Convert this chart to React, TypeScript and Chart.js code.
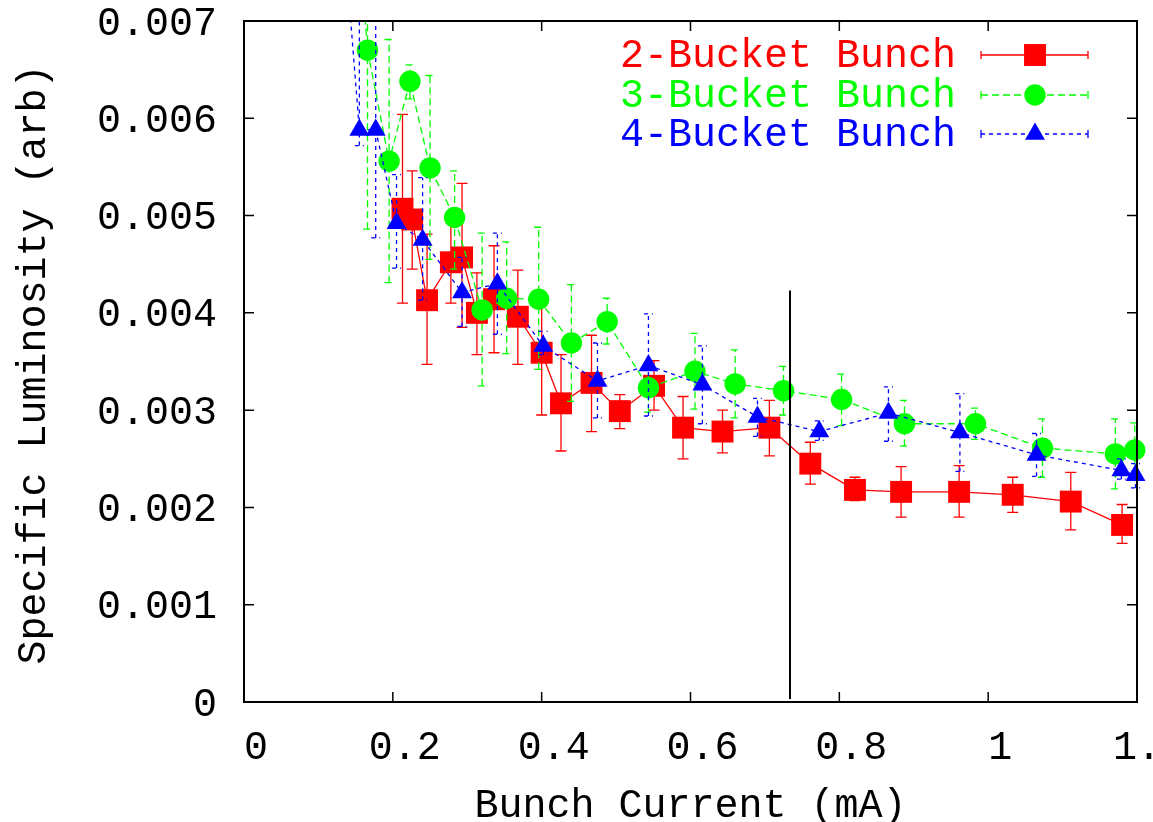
import React, { useEffect, useRef } from "react";
import { Chart, registerables } from "chart.js";

Chart.register(...registerables);

// ---------- data ----------
const xTickValues = [0, 0.2, 0.4, 0.6, 0.8, 1.0, 1.2];
const yTickValues = [0, 0.001, 0.002, 0.003, 0.004, 0.005, 0.006, 0.007];

const seriesNames = ["2-Bucket Bunch", "3-Bucket Bunch", "4-Bucket Bunch"];

const bucket2X = [0.213, 0.226, 0.246, 0.278, 0.293, 0.313, 0.336, 0.368, 0.400, 0.426, 0.467, 0.505, 0.551, 0.590, 0.643, 0.706, 0.761, 0.821, 0.883, 0.961, 1.033, 1.111, 1.180];
const bucket2Y = [0.00507, 0.00496, 0.00413, 0.00452, 0.00457, 0.00400, 0.00414, 0.00396, 0.00359, 0.00307, 0.00328, 0.00299, 0.00325, 0.00282, 0.00278, 0.00282, 0.00245, 0.00218, 0.00216, 0.00216, 0.00213, 0.00206, 0.00182];
const bucket2Lo = [0.00410, 0.00445, 0.00347, 0.00410, 0.00385, 0.00357, 0.00359, 0.00347, 0.00295, 0.00258, 0.00278, 0.00281, 0.00300, 0.00250, 0.00256, 0.00253, 0.00224, 0.00207, 0.00190, 0.00190, 0.00195, 0.00177, 0.00163];
const bucket2Hi = [0.00604, 0.00546, 0.00481, 0.00493, 0.00533, 0.00441, 0.00469, 0.00444, 0.00410, 0.00357, 0.00377, 0.00316, 0.00351, 0.00314, 0.00300, 0.00310, 0.00267, 0.00231, 0.00242, 0.00243, 0.00231, 0.00236, 0.00203];

const bucket3X = [0.148, 0.166, 0.195, 0.223, 0.250, 0.283, 0.320, 0.353, 0.396, 0.440, 0.488, 0.5435, 0.606, 0.660, 0.725, 0.803, 0.8875, 0.983, 1.073, 1.171, 1.197];
const bucket3Y = [0.0085, 0.00670, 0.00556, 0.00638, 0.00549, 0.00498, 0.00403, 0.00415, 0.00414, 0.00369, 0.00391, 0.00323, 0.00340, 0.00327, 0.00320, 0.00311, 0.00286, 0.00286, 0.00261, 0.00255, 0.00259];
const bucket3Lo = [0.0085, 0.00486, 0.00431, 0.00620, 0.00455, 0.00445, 0.00325, 0.00358, 0.00342, 0.00309, 0.00368, 0.00298, 0.00301, 0.00292, 0.00295, 0.00284, 0.00263, 0.00270, 0.00231, 0.00219, 0.00232];
const bucket3Hi = [0.0085, 0.00850, 0.00681, 0.00655, 0.00644, 0.00546, 0.00482, 0.00473, 0.00488, 0.00429, 0.00415, 0.00348, 0.00379, 0.00362, 0.00345, 0.00337, 0.00310, 0.00302, 0.00291, 0.00291, 0.00287];

const bucket4X = [0.128, 0.155, 0.177, 0.205, 0.240, 0.293, 0.3405, 0.402, 0.475, 0.5435, 0.616, 0.690, 0.773, 0.866, 0.962, 1.065, 1.179, 1.198];
const bucket4Y = [0.0085, 0.00588, 0.00588, 0.00492, 0.00475, 0.00421, 0.00430, 0.00366, 0.00330, 0.00346, 0.00326, 0.00293, 0.00278, 0.00297, 0.00277, 0.00254, 0.00238, 0.00233];
const bucket4Lo = [0.0085, 0.00572, 0.00477, 0.00446, 0.00413, 0.00386, 0.00378, 0.00357, 0.00292, 0.00294, 0.00286, 0.00273, 0.00269, 0.00268, 0.00237, 0.00232, 0.00229, 0.00220];
const bucket4Hi = [0.0085, 0.00850, 0.00850, 0.00542, 0.00539, 0.00457, 0.00482, 0.00381, 0.00369, 0.00399, 0.00366, 0.00312, 0.00289, 0.00324, 0.00317, 0.00276, 0.00250, 0.00245];

const markerLineX = [0.734];
const markerLineTop = [0.00423];

// ---------- styles ----------
const FONT = "'Liberation Mono', 'DejaVu Sans Mono', monospace";
const FONT_SIZE = 40;
const colors = ["#ff0000", "#00ff00", "#0000ff"];
const dashes: number[][] = [[], [7, 4], [4, 4]];
const pointStyles = ["rect", "circle", "triangle"];
const pointRadii = [15.5, 10.7, 11.5];
const capHalf = [5.5, 4.5, 4.5];

const errLo = [bucket2Lo, bucket3Lo, bucket4Lo];
const errHi = [bucket2Hi, bucket3Hi, bucket4Hi];
const errX = [bucket2X, bucket3X, bucket4X];

function drawMarker(ctx: CanvasRenderingContext2D, style: string, x: number, y: number, r: number) {
  ctx.beginPath();
  if (style === "rect") {
    const s = Math.SQRT1_2 * r;
    ctx.rect(x - s, y - s, 2 * s, 2 * s);
  } else if (style === "circle") {
    ctx.arc(x, y, r, 0, Math.PI * 2);
  } else {
    const third = (2 * Math.PI) / 3;
    let a = 0;
    ctx.moveTo(x + Math.sin(a) * r, y - Math.cos(a) * r);
    a += third;
    ctx.lineTo(x + Math.sin(a) * r, y - Math.cos(a) * r);
    a += third;
    ctx.lineTo(x + Math.sin(a) * r, y - Math.cos(a) * r);
    ctx.closePath();
  }
  ctx.fill();
}

const gnuplotPlugin = {
  id: "gnuplotDecor",
  beforeDatasetDraw(chart: any, args: any) {
    const i = args.index;
    const { ctx, chartArea } = chart;
    const xs = chart.scales.x;
    const ys = chart.scales.y;
    ctx.save();
    ctx.beginPath();
    ctx.rect(0, chartArea.top, chart.width, chartArea.bottom - chartArea.top);
    ctx.clip();
    ctx.strokeStyle = colors[i];
    ctx.lineWidth = 1.3;
    ctx.setLineDash(dashes[i]);
    const X = errX[i];
    for (let k = 0; k < X.length; k++) {
      const px = xs.getPixelForValue(X[k]);
      const pl = ys.getPixelForValue(errLo[i][k]);
      const ph = ys.getPixelForValue(errHi[i][k]);
      ctx.beginPath();
      ctx.moveTo(px, pl);
      ctx.lineTo(px, ph);
      ctx.moveTo(px - capHalf[i], pl);
      ctx.lineTo(px + capHalf[i], pl);
      ctx.moveTo(px - capHalf[i], ph);
      ctx.lineTo(px + capHalf[i], ph);
      ctx.stroke();
    }
    ctx.restore();
  },
  afterDatasetsDraw(chart: any) {
    const { ctx } = chart;
    const xs = chart.scales.x;
    const ys = chart.scales.y;
    ctx.save();
    ctx.strokeStyle = "#000";
    ctx.lineWidth = 2;
    for (let k = 0; k < markerLineX.length; k++) {
      const px = Math.round(xs.getPixelForValue(markerLineX[k]));
      ctx.beginPath();
      ctx.moveTo(px, ys.getPixelForValue(0) - 3);
      ctx.lineTo(px, ys.getPixelForValue(markerLineTop[k]));
      ctx.stroke();
    }
    ctx.restore();
  },
  afterDraw(chart: any) {
    const { ctx, chartArea } = chart;
    const { left, right, top, bottom } = chartArea;
    const xs = chart.scales.x;
    const ys = chart.scales.y;
    ctx.save();
    // border
    ctx.strokeStyle = "#000";
    ctx.lineWidth = 2;
    ctx.setLineDash([]);
    ctx.strokeRect(left, top, right - left, bottom - top);
    // inward ticks on all sides
    ctx.lineWidth = 1.5;
    const tl = 10;
    ctx.beginPath();
    for (const v of xTickValues) {
      const px = xs.getPixelForValue(v);
      ctx.moveTo(px, bottom);
      ctx.lineTo(px, bottom - tl);
      ctx.moveTo(px, top);
      ctx.lineTo(px, top + tl);
    }
    for (const v of yTickValues) {
      const py = ys.getPixelForValue(v);
      ctx.moveTo(left, py);
      ctx.lineTo(left + tl, py);
      ctx.moveTo(right, py);
      ctx.lineTo(right - tl, py);
    }
    ctx.stroke();

    // axis titles
    ctx.fillStyle = "#000";
    ctx.font = `${FONT_SIZE}px ${FONT}`;
    ctx.textAlign = "center";
    ctx.textBaseline = "alphabetic";
    ctx.fillText("Bunch Current (mA)", (left + right) / 2, 817);
    ctx.save();
    ctx.translate(45, (top + bottom) / 2 + 3);
    ctx.rotate(-Math.PI / 2);
    ctx.fillText("Specific Luminosity (arb)", 0, 0);
    ctx.restore();

    // legend
    const rowsY = [55, 95, 134];
    const textRight = 956;
    const lineL = 981;
    const lineR = 1088;
    const markX = 1035;
    for (let i = 0; i < 3; i++) {
      const y = rowsY[i];
      ctx.fillStyle = colors[i];
      ctx.textAlign = "right";
      ctx.textBaseline = "middle";
      ctx.fillText(seriesNames[i], textRight, y + 1);
      ctx.strokeStyle = colors[i];
      ctx.lineWidth = 1.3;
      ctx.setLineDash(dashes[i]);
      ctx.beginPath();
      ctx.moveTo(lineL, y);
      ctx.lineTo(lineR, y);
      ctx.stroke();
      ctx.setLineDash([]);
      ctx.beginPath();
      ctx.moveTo(lineL, y - 4);
      ctx.lineTo(lineL, y + 4);
      ctx.moveTo(lineR, y - 4);
      ctx.lineTo(lineR, y + 4);
      ctx.stroke();
      drawMarker(ctx, pointStyles[i], markX, y, pointRadii[i]);
    }
    ctx.restore();
  },
};

function buildDataset(i: number, xs: number[], ys: number[]) {
  return {
    label: seriesNames[i],
    data: xs.map((x, k) => ({ x, y: ys[k] })),
    borderColor: colors[i],
    backgroundColor: colors[i],
    borderWidth: 1.3,
    borderDash: dashes[i],
    pointStyle: pointStyles[i],
    pointRadius: pointRadii[i],
    pointHoverRadius: pointRadii[i],
    pointBackgroundColor: colors[i],
    pointBorderWidth: 0,
    showLine: true,
    tension: 0,
    order: 3 - i,
    clip: { left: 30, right: 30, top: 0, bottom: 0 },
  };
}

export default function App() {
  const canvasRef = useRef<HTMLCanvasElement | null>(null);

  useEffect(() => {
    if (!canvasRef.current) return;
    const chart = new Chart(canvasRef.current, {
      type: "scatter",
      data: {
        datasets: [
          buildDataset(0, bucket2X, bucket2Y),
          buildDataset(1, bucket3X, bucket3Y),
          buildDataset(2, bucket4X, bucket4Y),
        ] as any,
      },
      options: {
        animation: false,
        responsive: false,
        devicePixelRatio: 1,
        layout: { padding: { left: 0, right: 16, top: 21, bottom: 0 } },
        plugins: {
          legend: { display: false },
          tooltip: { enabled: false },
          title: { display: false },
        },
        events: [],
        scales: {
          x: {
            type: "linear",
            min: 0,
            max: 1.2,
            grid: { display: false, drawTicks: false },
            border: { display: false },
            afterBuildTicks: (scale: any) => {
              scale.ticks = xTickValues.map((v) => ({ value: v }));
            },
            afterFit: (scale: any) => {
              scale.height = 120;
              scale.paddingLeft = 0;
              scale.paddingRight = 0;
            },
            ticks: {
              autoSkip: false,
              maxRotation: 0,
              minRotation: 0,
              labelOffset: 12,
              padding: 22,
              color: "#000",
              font: { family: FONT, size: FONT_SIZE },
              callback: (v: any) => String(Number(Number(v).toFixed(1))),
            },
          },
          y: {
            type: "linear",
            min: 0,
            max: 0.007,
            grid: { display: false, drawTicks: false },
            border: { display: false },
            afterBuildTicks: (scale: any) => {
              scale.ticks = yTickValues.map((v) => ({ value: v }));
            },
            afterFit: (scale: any) => {
              scale.width = 244;
              scale.paddingTop = 0;
              scale.paddingBottom = 0;
            },
            ticks: {
              autoSkip: false,
              padding: 27,
              labelOffset: 3,
              color: "#000",
              font: { family: FONT, size: FONT_SIZE },
              callback: (v: any) => (Number(v) === 0 ? "0" : Number(v).toFixed(3)),
            },
          },
        },
      } as any,
      plugins: [gnuplotPlugin],
    });
    return () => chart.destroy();
  }, []);

  return (
    <div style={{ position: "fixed", left: 0, top: 0, width: 1153, height: 822, overflow: "hidden", background: "#fff" }}>
      <canvas ref={canvasRef} width={1153} height={822} style={{ width: 1153, height: 822, display: "block" }} />
    </div>
  );
}
